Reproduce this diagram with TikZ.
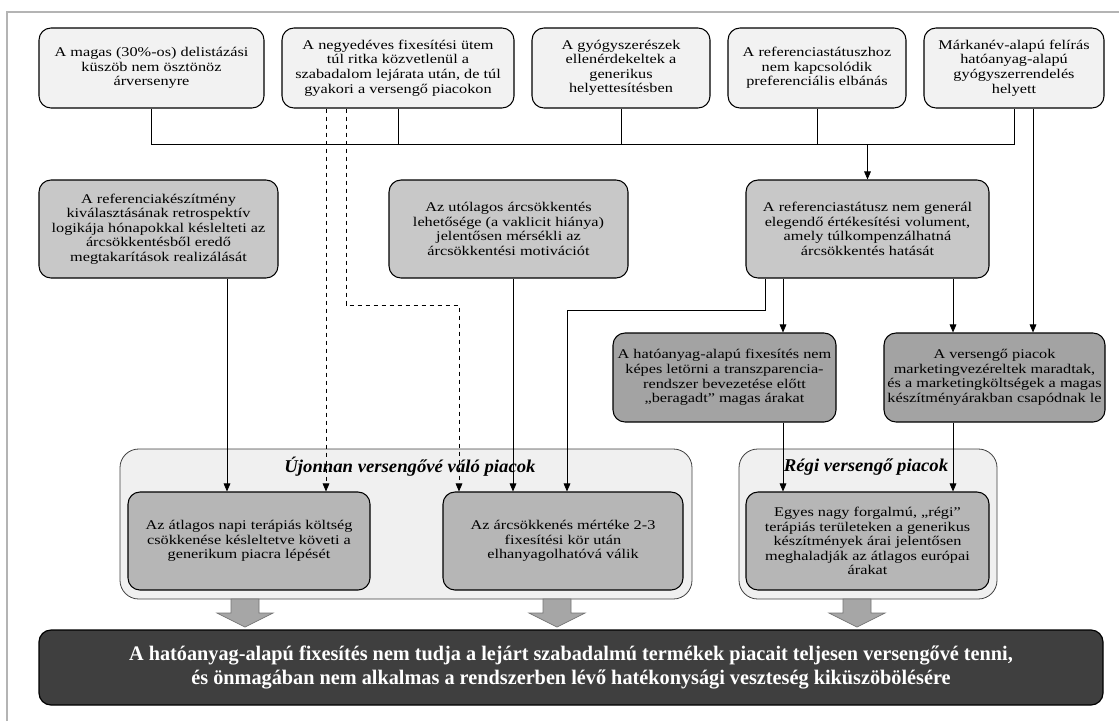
\documentclass[tikz,border=0pt]{standalone}
\usepackage{fontspec}
\setmainfont{Liberation Serif}[FakeStretch=1.22]
\newfontfamily\barfont{Liberation Serif}[FakeStretch=0.98]
\newfontfamily\titlefont{Liberation Serif}[FakeStretch=1.04]
\usetikzlibrary{arrows.meta}
\definecolor{topfill}{HTML}{F2F2F2}
\definecolor{midfill}{HTML}{C8C8C8}
\definecolor{darkfill}{HTML}{A3A3A3}
\definecolor{innerfill}{HTML}{B6B6B6}
\definecolor{grpfill}{HTML}{F0F0F0}
\definecolor{barfill}{HTML}{3F3F3F}
\definecolor{blkfill}{HTML}{A6A6A6}
\definecolor{framec}{HTML}{B4B4B4}
\newcommand\bx[7]{\node[#6, minimum width={(#4-#2)*0.75pt}, minimum height={(#5-#3)*0.75pt}] (#1) at ({(#2+#4)/2},{(#3+#5)/2}) {#7};}
\begin{document}
\begin{tikzpicture}[x=0.75pt,y=-0.75pt,
  box/.style={draw=black, line width=0.8pt, rounded corners=9pt, align=center, inner sep=0pt, font=\fontsize{10}{10.9}\selectfont},
  topbox/.style={box, fill=topfill},
  midbox/.style={box, fill=midfill},
  darkbox/.style={box, fill=darkfill},
  innerbox/.style={box, fill=innerfill},
  grpbox/.style={draw=black!75, line width=0.6pt, rounded corners=14pt, fill=grpfill, inner sep=0pt},
  barbox/.style={draw=black, line width=0.9pt, rounded corners=9pt, fill=barfill, text=white, align=center, inner sep=0pt, font=\barfont\bfseries\fontsize{15.5}{18}\selectfont},
  grptitle/.style={font=\titlefont\bfseries\itshape\fontsize{13.5}{14}\selectfont, inner sep=0pt},
  conn/.style={line width=0.6pt},
  arr/.style={conn, -{Triangle[length=6pt,width=5pt]}},
  dsh/.style={arr, dash pattern=on 3.5pt off 2.5pt},
  blk/.style={draw=black!55, line width=0.5pt, fill=blkfill}]
\useasboundingbox (0,0) rectangle (1119,721);
\draw[framec, line width=1.5pt] (7,721) -- (7,12) -- (1119,12);
% top row
\bx{T1}{39}{28}{264}{108}{topbox}{A magas (30\%-os) delistázási\\küszöb nem ösztönöz\\árversenyre}
\bx{T2}{282}{28}{514}{108}{topbox}{A negyedéves fixesítési ütem\\túl ritka közvetlenül a\\szabadalom lejárata után, de túl\\gyakori a versengő piacokon}
\bx{T3}{532}{28}{710}{108}{topbox}{A gyógyszerészek\\ellenérdekeltek a\\generikus\\helyettesítésben}
\bx{T4}{728}{28}{906}{108}{topbox}{A referenciastátuszhoz\\nem kapcsolódik\\preferenciális elbánás}
\bx{T5}{924}{28}{1104}{108}{topbox}{Márkanév-alapú felírás\\hatóanyag-alapú\\gyógyszerrendelés\\helyett}
% middle row
\bx{M1}{39}{180}{278}{278}{midbox}{A referenciakészítmény\\kiválasztásának retrospektív\\logikája hónapokkal késlelteti az\\árcsökkentésből eredő\\megtakarítások realizálását}
\bx{M2}{389}{180}{628}{278}{midbox}{Az utólagos árcsökkentés\\lehetősége (a vaklicit hiánya)\\jelentősen mérsékli az\\árcsökkentési motivációt}
\bx{M3}{746}{180}{989}{278}{midbox}{A referenciastátusz nem generál\\elegendő értékesítési volument,\\amely túlkompenzálhatná\\árcsökkentés hatását}
% third row
\bx{N1}{613}{333}{836}{422}{darkbox}{A hatóanyag-alapú fixesítés nem\\képes letörni a transzparencia-\\rendszer bevezetése előtt\\„beragadt” magas árakat}
\bx{N2}{884}{333}{1105}{422}{darkbox}{A versengő piacok\\marketingvezéreltek maradtak,\\és a marketingköltségek a magas\\készítményárakban csapódnak le}
% groups
\bx{GL}{120}{449}{692}{599}{grpbox}{}
\bx{GR}{739}{449}{997}{599}{grpbox}{}
\node[grptitle] (GLt) at (410,467) {Újonnan versengővé váló piacok};
\node[grptitle] (GRt) at (866,467) {Régi versengő piacok};
\bx{L1}{128}{492}{370}{590}{innerbox}{Az átlagos napi terápiás költség\\csökkenése késleltetve követi a\\generikum piacra lépését}
\bx{L2}{443}{492}{683}{590}{innerbox}{Az árcsökkenés mértéke 2-3\\fixesítési kör után\\elhanyagolhatóvá válik}
\bx{R1}{746}{492}{989}{590}{innerbox}{Egyes nagy forgalmú, „régi”\\terápiás területeken a generikus\\készítmények árai jelentősen\\meghaladják az átlagos európai\\árakat}
% bottom bar
\bx{B}{39}{630}{1103}{705}{barbox}{A hatóanyag-alapú fixesítés nem tudja a lejárt szabadalmú termékek piacait teljesen versengővé tenni,\\és önmagában nem alkalmas a rendszerben lévő hatékonysági veszteség kiküszöbölésére}
% helper coordinates
\coordinate (bus) at (0,144);
\coordinate (x227) at (227,0);
\coordinate (x326) at (326,0);
\coordinate (x346) at (346,0);
\coordinate (d2) at (459,305);
\coordinate (x513) at (513,0);
\coordinate (m3a) at (765,310);
\coordinate (x567) at (567,0);
\coordinate (x783) at (783,0);
\coordinate (x953) at (953,0);
\coordinate (x1033) at (1033,0);
% bus
\draw[conn] (T1.south) -- (T1.south |- bus) -- (T5.south |- bus) -- (T5.south);
\foreach \n in {T2,T3,T4} \draw[conn] (\n.south) -- (\n.south |- bus);
\draw[arr] (M3.north |- bus) -- (M3.north);
\draw[arr] (x1033 |- T5.south) -- (x1033 |- N2.north);
% dashed
\draw[dsh] (x326 |- T2.south) -- (x326 |- L1.north);
\draw[dsh] (x346 |- T2.south) |- (d2) -- (d2 |- L2.north);
% middle
\draw[arr] (x227 |- M1.south) -- (x227 |- L1.north);
\draw[arr] (x513 |- M2.south) -- (x513 |- L2.north);
\draw[arr] (m3a |- M3.south) -- (m3a) -| (x567 |- L2.north);
\draw[arr] (x783 |- M3.south) -- (x783 |- N1.north);
\draw[arr] (x953 |- M3.south) -- (x953 |- N2.north);
\draw[arr] (x783 |- N1.south) -- (x783 |- R1.north);
\draw[arr] (x953 |- N2.south) -- (x953 |- R1.north);
% block arrows
\foreach \cx in {245,557,857}
  \draw[blk] ({\cx-14},599) -- ({\cx+14},599) -- ({\cx+14},613) -- ({\cx+28},613) -- (\cx,627) -- ({\cx-28},613) -- ({\cx-14},613) -- cycle;
\end{tikzpicture}
\end{document}
